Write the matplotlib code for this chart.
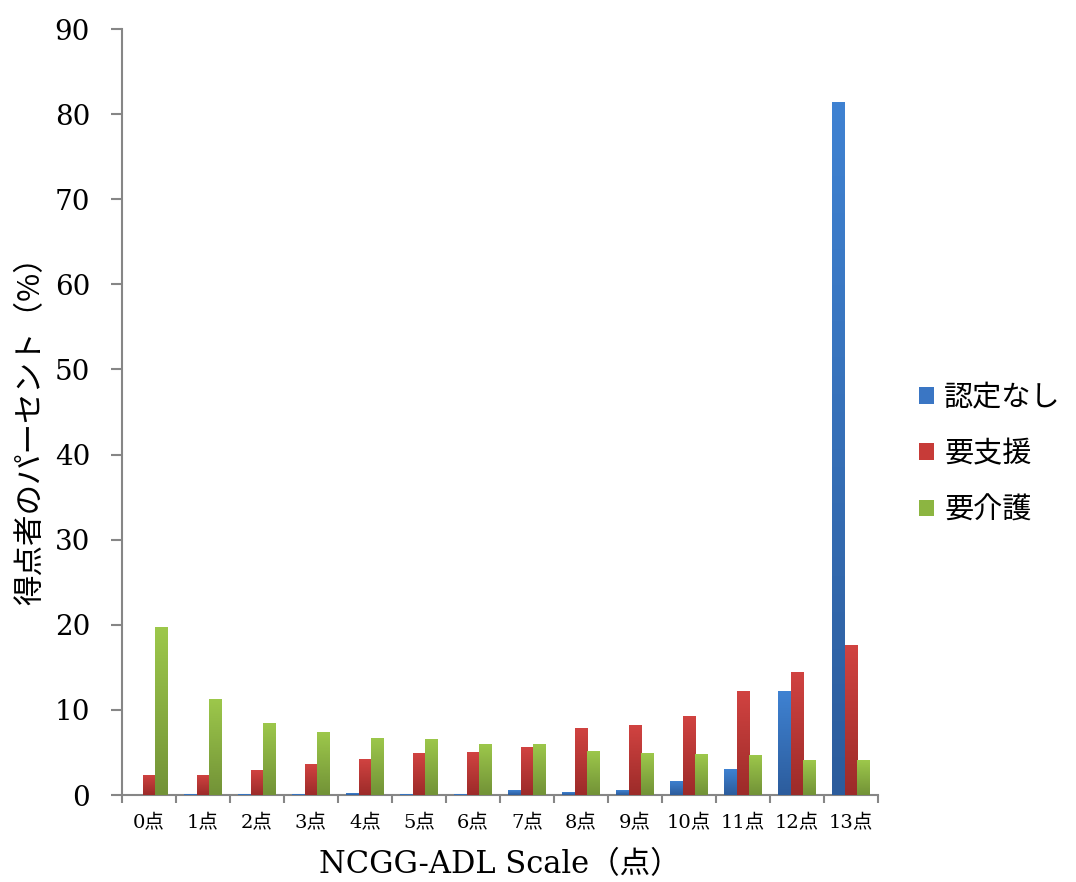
import matplotlib
matplotlib.use("Agg")
import matplotlib.pyplot as plt
import numpy as np
from matplotlib.colors import LinearSegmentedColormap

categories = ["0点", "1点", "2点", "3点", "4点", "5点", "6点", "7点", "8点", "9点", "10点", "11点", "12点", "13点"]
series_names = ["認定なし", "要支援", "要介護"]
nintei_nashi = [0.0, 0.1, 0.1, 0.1, 0.2, 0.1, 0.1, 0.55, 0.3, 0.55, 1.7, 3.0, 12.2, 81.4]
yoshien = [2.35, 2.35, 2.9, 3.6, 4.2, 4.9, 5.05, 5.6, 7.9, 8.2, 9.3, 12.2, 14.5, 17.6]
yokaigo = [19.7, 11.3, 8.5, 7.4, 6.7, 6.6, 6.0, 6.0, 5.2, 4.9, 4.8, 4.7, 4.1, 4.1]
yticks = [0, 10, 20, 30, 40, 50, 60, 70, 80, 90]

colors = ["#3A76C4", "#C73B38", "#8CB541"]
top_cols = ["#3F82D2", "#D14341", "#9DC84B"]
bot_cols = ["#2C5C9C", "#9C2B29", "#729237"]

plt.rcParams['font.family'] = ['Noto Sans CJK JP', 'DejaVu Sans']

fig = plt.figure(figsize=(10.76, 8.82), dpi=100)
ax = fig.add_axes([122/1076, 1-795/882, (878-122)/1076, (795-29)/882])

x = np.arange(len(categories))
w = 0.23
grad = np.linspace(0, 1, 256).reshape(-1, 1)
for i, vals in enumerate([nintei_nashi, yoshien, yokaigo]):
    bars = ax.bar(x + (i - 1) * w, vals, width=w, color=colors[i],
                  label=series_names[i], zorder=3)
    cmap = LinearSegmentedColormap.from_list("g%d" % i, [bot_cols[i], top_cols[i]])
    for b in bars:
        h = b.get_height()
        if h <= 0:
            continue
        bx = b.get_x()
        im = ax.imshow(grad, cmap=cmap, origin='lower', aspect='auto',
                       extent=[bx, bx + b.get_width(), 0, h], zorder=4)
        im.set_clip_path(b)

ax.set_xlim(-0.5, len(categories) - 0.5)
ax.set_ylim(0, 90)
ax.set_yticks(yticks)
ax.set_yticklabels([str(v) for v in yticks], family=['DejaVu Serif'], fontsize=20)
ax.set_xticks(x)
ax.set_xticklabels(categories, family=['DejaVu Serif', 'Noto Sans CJK JP'], fontsize=14)
ax.set_xticks(np.arange(-0.5, len(categories), 1.0), minor=True)
ax.tick_params(axis='x', which='major', length=0, pad=14)
ax.tick_params(axis='x', which='minor', length=6, color='#868686', direction='out', width=1.5)
ax.tick_params(axis='y', length=8, color='#868686', direction='out', width=1.5, pad=15)

for s in ['top', 'right']:
    ax.spines[s].set_visible(False)
for s in ['left', 'bottom']:
    ax.spines[s].set_color('#868686')
    ax.spines[s].set_linewidth(1.5)

ax.set_xlabel("NCGG-ADL Scale（点）", fontsize=22, labelpad=12,
              family=['DejaVu Serif', 'Noto Sans CJK JP'])
ax.set_ylabel("得点者のパーセント（%）", fontsize=22)
ax.yaxis.set_label_coords(-0.10, 0.485)

leg = ax.legend(loc='center left', bbox_to_anchor=(1.02, 0.445), frameon=False,
                fontsize=21, handlelength=0.5, handleheight=0.5, handletextpad=0.35,
                labelspacing=0.9)

fig.savefig("out.png", dpi=100)
